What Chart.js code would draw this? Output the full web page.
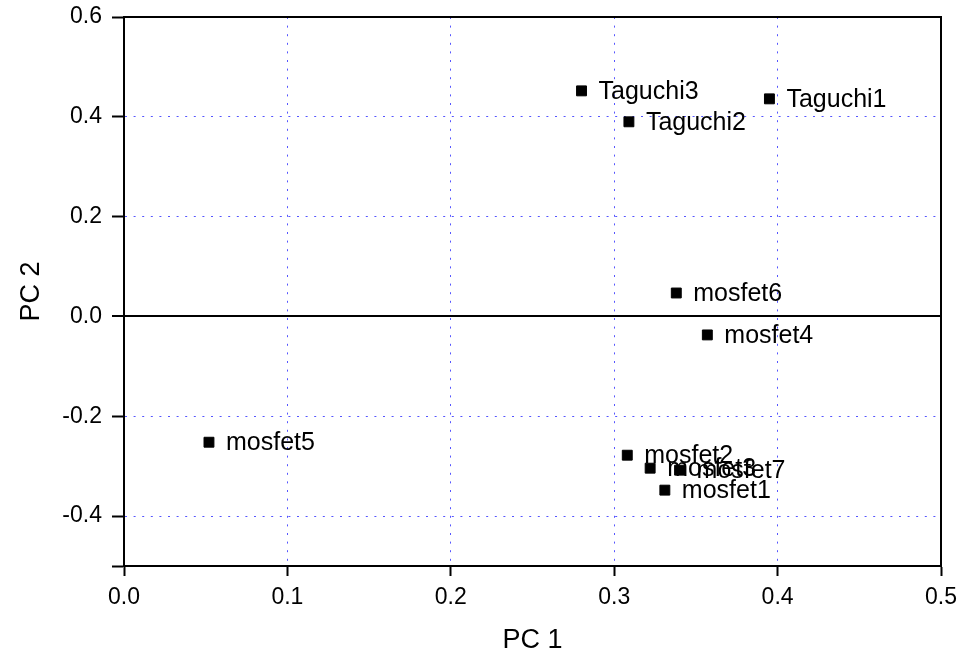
<!DOCTYPE html>
<html>
<head>
<meta charset="utf-8">
<script src="https://cdn.jsdelivr.net/npm/chart.js@4.4.0/dist/chart.umd.min.js"></script>
<style>
  html, body { margin: 0; padding: 0; background: #fff; }
  #wrap { width: 961px; height: 657px; }
</style>
</head>
<body>
<div id="wrap"><canvas id="myChart" width="961" height="657"></canvas></div>
<script>
// Nombres de las muestras y sus componentes principales
const sampleNames = ['Taguchi1', 'Taguchi2', 'Taguchi3', 'mosfet1', 'mosfet2', 'mosfet3',
  'mosfet4', 'mosfet5', 'mosfet6', 'mosfet7'];
const pc1Values = [0.395, 0.309, 0.280, 0.331, 0.308, 0.322, 0.357, 0.052, 0.338, 0.340];
const pc2Values = [0.436, 0.390, 0.452, -0.348, -0.278, -0.304, -0.037, -0.252, 0.047, -0.308];

const xTickLabels = [0.0, 0.1, 0.2, 0.3, 0.4, 0.5];
const yTickLabels = [-0.4, -0.2, 0.0, 0.2, 0.4, 0.6];

const dotColor = 'rgb(85, 85, 255)';
const fontFam = '"Liberation Sans", Arial, sans-serif';

const points = pc1Values.map((v, i) => ({ x: v, y: pc2Values[i] }));

function isMajor(value, list) {
  return list.some(t => Math.abs(t - value) < 1e-6);
}

// Etiquetas junto a cada punto
const pointLabels = {
  id: 'pointLabels',
  afterDatasetsDraw(chart) {
    const ctx = chart.ctx;
    const meta = chart.getDatasetMeta(0);
    ctx.save();
    ctx.font = '25px ' + fontFam;
    ctx.fillStyle = '#000';
    ctx.textBaseline = 'middle';
    ctx.textAlign = 'left';
    meta.data.forEach((pt, i) => {
      ctx.fillText(sampleNames[i], pt.x + 17, pt.y + 1);
    });
    ctx.restore();
  }
};

new Chart(document.getElementById('myChart').getContext('2d'), {
  type: 'scatter',
  data: {
    datasets: [{
      label: 'PCA',
      data: points,
      pointStyle: 'rect',
      pointRadius: 7,
      pointHoverRadius: 7,
      backgroundColor: '#000',
      borderColor: '#000',
      borderWidth: 1
    }]
  },
  options: {
    responsive: false,
    animation: false,
    layout: { padding: { top: 17, right: 20, left: 0, bottom: 0 } },
    plugins: {
      legend: { display: false },
      tooltip: { enabled: false }
    },
    scales: {
      x: {
        type: 'linear',
        position: 'bottom',
        min: 0, max: 0.5,
        afterBuildTicks: s => { s.ticks = xTickLabels.map(v => ({ value: v })); },
        afterFit: s => { s.height = 91; s.paddingLeft = 0; s.paddingRight = 0; },
        ticks: {
          color: '#000',
          font: { size: 23, family: fontFam },
          padding: 8,
          maxRotation: 0,
          callback: v => v.toFixed(1)
        },
        grid: {
          color: c => (c.tick && c.tick.value > 0 && c.tick.value < 0.5) ? dotColor : 'rgba(0,0,0,0)',
          lineWidth: 1,
          tickColor: '#000',
          tickWidth: 2,
          tickLength: 10
        },
        border: { display: true, color: '#000', width: 2, dash: c => c.tick ? [2, 6.6] : [] },
        title: {
          display: true,
          text: 'PC 1',
          color: '#000',
          font: { size: 27, family: fontFam },
          padding: { top: 0, bottom: 0 }
        }
      },
      xMinor: {
        type: 'linear',
        position: 'bottom',
        min: 0, max: 0.5,
        afterBuildTicks: s => {
          s.ticks = [0.05, 0.15, 0.25, 0.35, 0.45].map(v => ({ value: v }));
        },
        afterFit: s => { s.height = 0; },
        ticks: { display: false },
        grid: { drawOnChartArea: false, tickColor: '#000', tickWidth: 2, tickLength: 6 },
        border: { display: false }
      },
      xTop: {
        type: 'linear',
        position: 'top',
        min: 0, max: 0.5,
        ticks: { display: false },
        grid: { display: false, drawTicks: false },
        border: { display: true, color: '#000', width: 2 }
      },
      y: {
        type: 'linear',
        position: 'left',
        min: -0.5, max: 0.6,
        afterBuildTicks: s => {
          s.ticks = [-0.5].concat(yTickLabels).map(v => ({ value: v }));
        },
        afterFit: s => { s.width = 124; s.paddingTop = 0; s.paddingBottom = 0; },
        ticks: {
          color: '#000',
          font: { size: 23, family: fontFam },
          padding: 10,
          callback: v => isMajor(v, yTickLabels) ? v.toFixed(1) : ''
        },
        grid: {
          color: c => {
            if (!c.tick) return 'rgba(0,0,0,0)';
            const v = c.tick.value;
            if (Math.abs(v) < 1e-6) return '#000';
            if (v < -0.45 || v > 0.55) return 'rgba(0,0,0,0)';
            return dotColor;
          },
          lineWidth: c => (c.tick && Math.abs(c.tick.value) < 1e-6) ? 2 : 1,
          tickColor: '#000',
          tickWidth: 2,
          tickLength: 12
        },
        border: {
          display: true, color: '#000', width: 2,
          dash: c => (c.tick && Math.abs(c.tick.value) > 1e-6) ? [2, 6.6] : []
        },
        title: {
          display: true,
          text: 'PC 2',
          color: '#000',
          font: { size: 27, family: fontFam },
          padding: { top: 15, bottom: 0 }
        }
      },
      yMinor: {
        type: 'linear',
        position: 'left',
        min: -0.5, max: 0.6,
        afterBuildTicks: s => {
          s.ticks = [-0.3, -0.1, 0.1, 0.3, 0.5].map(v => ({ value: v }));
        },
        afterFit: s => { s.width = 0; },
        ticks: { display: false },
        grid: { drawOnChartArea: false, tickColor: '#000', tickWidth: 2, tickLength: 6 },
        border: { display: false }
      },
      yRight: {
        type: 'linear',
        position: 'right',
        min: -0.5, max: 0.6,
        ticks: { display: false },
        grid: { display: false, drawTicks: false },
        border: { display: true, color: '#000', width: 2 }
      }
    }
  },
  plugins: [pointLabels]
});
</script>
</body>
</html>
